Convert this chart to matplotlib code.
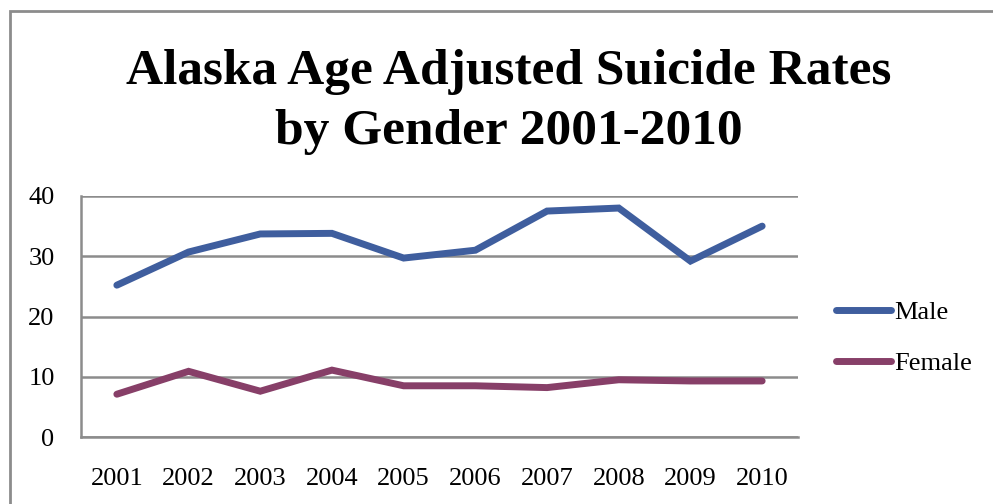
import matplotlib
matplotlib.use("Agg")
import matplotlib.pyplot as plt
from matplotlib.patches import Rectangle

years = ["2001", "2002", "2003", "2004", "2005", "2006", "2007", "2008", "2009", "2010"]
male = [25.2, 30.7, 33.7, 33.8, 29.7, 31.0, 37.5, 38.0, 29.2, 35.0]
female = [7.1, 10.9, 7.6, 11.1, 8.5, 8.5, 8.2, 9.5, 9.3, 9.3]
yticks = [0, 10, 20, 30, 40]
title = "Alaska Age Adjusted Suicide Rates\nby Gender 2001-2010"

W, H = 993, 504
fig = plt.figure(figsize=(W / 100, H / 100), dpi=100)
plt.rcParams['font.family'] = ['Liberation Serif', 'DejaVu Serif']

# outer chart border
fig.patches.append(Rectangle((10 / W, -0.1), 1.2, 1 - 11 / H + 0.1, transform=fig.transFigure,
                             fill=False, edgecolor="#8c8c8c", linewidth=2))

ax = fig.add_axes([81 / W, 1 - 437 / H, (798 - 81) / W, (437 - 196) / H])
x = range(len(years))
ax.plot(x, male, color="#3F5E9E", linewidth=5, solid_capstyle="round", solid_joinstyle="miter", label="Male")
ax.plot(x, female, color="#873F68", linewidth=5, solid_capstyle="round", solid_joinstyle="miter", label="Female")
ax.set_xlim(-0.5, len(years) - 0.5)
ax.set_ylim(0, 40)
ax.set_yticks(yticks)
ax.set_xticks(list(x))
ax.set_xticklabels(years)
ax.yaxis.grid(True, color="#8c8c8c", linewidth=1.8)
ax.set_axisbelow(True)
for s in ["top", "right"]:
    ax.spines[s].set_visible(False)
for s in ["left", "bottom"]:
    ax.spines[s].set_color("#8c8c8c")
    ax.spines[s].set_linewidth(1.8)
ax.tick_params(axis="both", length=0, labelsize=19, colors="black")
ax.tick_params(axis="y", pad=19)
ax.tick_params(axis="x", pad=22)

fig.text(509 / W, 1 - 102 / H, title, ha="center", va="center", fontsize=37, fontweight="bold",
         linespacing=1.4)

leg = fig.legend(loc="center left", bbox_to_anchor=(836 / W, 1 - 338 / H),
                 bbox_transform=fig.transFigure, frameon=False, fontsize=19,
                 handlelength=2.1, handletextpad=0.1, labelspacing=1.05,
                 borderpad=0, borderaxespad=0)

fig.savefig("out.png", dpi=100)
